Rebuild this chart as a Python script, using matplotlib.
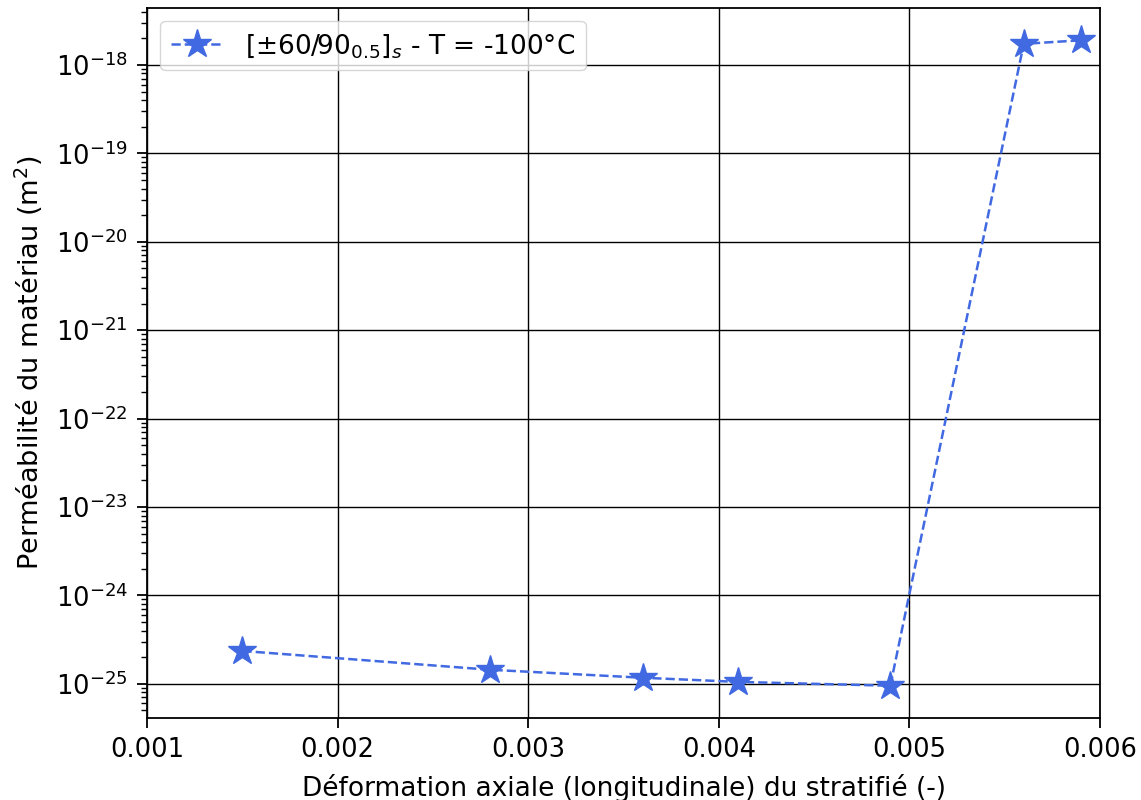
import matplotlib
matplotlib.use("Agg")
import matplotlib.pyplot as plt

strain = [0.0015, 0.0028, 0.0036, 0.0041, 0.0049, 0.0056, 0.0059]
permeability = [2.35e-25, 1.44e-25, 1.17e-25, 1.05e-25, 0.95e-25, 1.73e-18, 1.9e-18]
label = r"[$\pm$60/90$_{0.5}$]$_s$ - T = -100°C"

fig = plt.figure(figsize=(11.41, 8.0), dpi=100)
ax = fig.add_axes([0.129, 0.1025, 0.835, 0.8875])
ax.plot(strain, permeability, linestyle="--", color="royalblue", marker="*",
        markersize=21, linewidth=1.8, label=label)
ax.set_yscale("log")
ax.set_xlim(0.001, 0.006)
ax.grid(True, which="major", color="black", linewidth=1)
ax.set_xlabel("Déformation axiale (longitudinale) du stratifié (-)", fontsize=19, labelpad=7.5)
ax.set_ylabel("Perméabilité du matériau (m$^2$)", fontsize=19.5, labelpad=8)
ax.tick_params(axis="both", labelsize=18.5, width=1.3, length=7, pad=7)
ax.tick_params(axis="y", which="minor", length=4, width=1)
ax.legend(loc="upper left", fontsize=19, handlelength=2.0)
for s in ax.spines.values():
    s.set_linewidth(1.3)
fig.savefig("out.png", dpi=100)
